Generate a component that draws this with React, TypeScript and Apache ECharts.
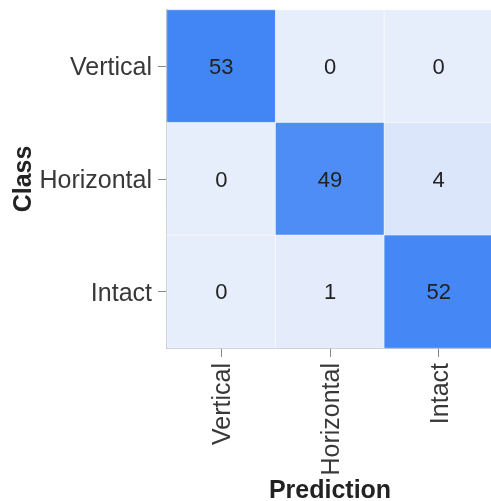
import React, { useEffect, useRef } from "react";
import * as echarts from "echarts";

const predictionLabels = ["Vertical", "Horizontal", "Intact"];
const classLabels = ["Vertical", "Horizontal", "Intact"];
// rows = class, columns = prediction
const matrix = [
  [53, 0, 0],
  [0, 49, 4],
  [0, 1, 52],
];

export default function App() {
  const ref = useRef<HTMLDivElement>(null);
  useEffect(() => {
    if (!ref.current) return;
    const chart = echarts.init(ref.current, null, { renderer: "svg" });
    const data: number[][] = [];
    matrix.forEach((row, r) => row.forEach((v, c) => data.push([c, r, v])));
    const font = "'Liberation Sans', Arial, sans-serif";
    chart.setOption({
      animation: false,
      grid: { left: 167, top: 10, right: -2, bottom: 153, outerBoundsMode: "none", containLabel: false },
      xAxis: {
        type: "category",
        data: predictionLabels,
        name: "Prediction",
        nameLocation: "middle",
        nameMoveOverlap: false,
        nameGap: 128,
        nameTextStyle: { fontFamily: font, fontSize: 25, fontWeight: "bold", color: "#222" },
        axisLine: { show: true, lineStyle: { color: "#888", width: 1.5 } },
        axisTick: { show: true, alignWithLabel: true, length: 9, lineStyle: { color: "#888" } },
        axisLabel: { rotate: 90, margin: 15, fontFamily: font, fontSize: 25, color: "#383838" },
        splitArea: { show: false },
      },
      yAxis: {
        type: "category",
        data: classLabels,
        inverse: true,
        name: "Class",
        nameLocation: "middle",
        nameMoveOverlap: false,
        nameGap: 133,
        nameTextStyle: { fontFamily: font, fontSize: 25, fontWeight: "bold", color: "#222" },
        axisLine: { show: true, lineStyle: { color: "#888", width: 1.5 } },
        axisTick: { show: true, alignWithLabel: true, length: 9, lineStyle: { color: "#888" } },
        axisLabel: { margin: 15, fontFamily: font, fontSize: 25, color: "#383838" },
      },
      visualMap: {
        show: false,
        min: 0,
        max: 53,
        inRange: { color: ["#e7eefb", "#4285f4"] },
      },
      series: [
        {
          type: "heatmap",
          data,
          label: { show: true, fontFamily: font, fontSize: 22, color: "#222" },
          itemStyle: { borderColor: "rgba(255,255,255,0.5)", borderWidth: 1 },
        },
      ],
    });
    return () => chart.dispose();
  }, []);
  return (
    <div
      ref={ref}
      style={{ position: "fixed", left: 0, top: 0, width: 491, height: 501 }}
    />
  );
}
